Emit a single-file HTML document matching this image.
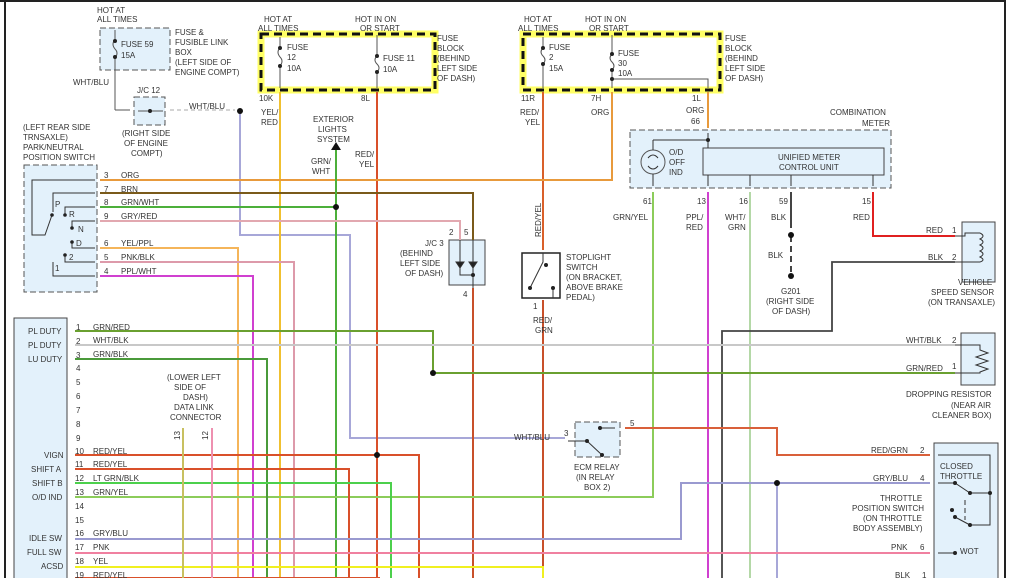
<!DOCTYPE html>
<html><head><style>
html,body{margin:0;padding:0;background:#fff;}
svg{display:block;}
text{font-family:"Liberation Sans",sans-serif;font-size:8px;fill:#333;}
</style></head><body>
<svg width="1021" height="578" viewBox="0 0 1021 578" xmlns="http://www.w3.org/2000/svg">
<rect width="1021" height="578" fill="#fff"/>
<line x1="5" y1="0" x2="5" y2="578" stroke="#222" stroke-width="2"/>
<line x1="0" y1="1" x2="1006" y2="1" stroke="#222" stroke-width="2"/>
<line x1="1005" y1="0" x2="1005" y2="578" stroke="#222" stroke-width="2"/>

<!-- boxes -->
<g stroke="#555" stroke-dasharray="6,3" fill="#e3f1fb">
<rect x="100" y="28" width="70" height="42"/>
<rect x="134" y="97" width="31" height="28"/>
<rect x="24" y="165" width="73" height="127"/>
<rect x="630" y="130" width="261" height="58"/>
<rect x="575" y="422" width="45" height="35"/>
</g>
<g stroke="#444" fill="#e3f1fb">
<rect x="703" y="148" width="181" height="27"/>
<rect x="14" y="318" width="53" height="262"/>
<rect x="449" y="240" width="36" height="45"/>
<rect x="962" y="222" width="33" height="60"/>
<rect x="961" y="333" width="34" height="52"/>
<rect x="934" y="443" width="64" height="140"/>
</g>
<rect x="522" y="253" width="38" height="45" fill="#fff" stroke="#222" stroke-width="1.5"/>

<!-- fuse blocks -->
<g fill="none">
<rect x="261" y="34" width="174" height="56" stroke="#ffff40" stroke-width="7" stroke-opacity=".8"/>
<rect x="261" y="34" width="174" height="56" stroke="#111" stroke-width="3" stroke-dasharray="8,5"/>
<rect x="523" y="34" width="197" height="56" stroke="#ffff40" stroke-width="7" stroke-opacity=".8"/>
<rect x="523" y="34" width="197" height="56" stroke="#111" stroke-width="3" stroke-dasharray="8,5"/>
</g>
<g stroke="#555" fill="none">
<line x1="115" y1="30" x2="115" y2="40"/><line x1="115" y1="58" x2="115" y2="110"/><line x1="115" y1="110" x2="130" y2="110"/>
<line x1="280" y1="37" x2="280" y2="48"/><line x1="280" y1="66" x2="280" y2="88"/>
<line x1="377" y1="35" x2="377" y2="56"/><line x1="377" y1="72" x2="377" y2="88"/>
<line x1="543" y1="37" x2="543" y2="48"/><line x1="543" y1="64" x2="543" y2="88"/>
<line x1="612" y1="35" x2="612" y2="54"/><line x1="612" y1="70" x2="612" y2="88"/>
<path d="M115,40 q-4,4 0,9 q4,4 0,9 M280,48 q-4,4 0,9 q4,4 0,9 M377,56 q-4,4 0,8 q4,4 0,8 M543,48 q-4,4 0,8 q4,4 0,8 M612,54 q-4,4 0,8 q4,4 0,8"/>
<polyline points="612,79 708,79 708,88"/>
<line x1="138" y1="111" x2="163" y2="111"/>
<line x1="170" y1="110" x2="235" y2="110" stroke-dasharray="4,3" stroke="#aaa"/>
</g>
<g fill="#222">
<circle cx="115" cy="41" r="2"/><circle cx="115" cy="57" r="2"/><circle cx="280" cy="48" r="2"/><circle cx="280" cy="66" r="2"/>
<circle cx="377" cy="56" r="2"/><circle cx="377" cy="72" r="2"/><circle cx="543" cy="48" r="2"/><circle cx="543" cy="64" r="2"/>
<circle cx="612" cy="54" r="2"/><circle cx="612" cy="70" r="2"/><circle cx="612" cy="79" r="2"/><circle cx="150" cy="111" r="2"/>
</g>

<!-- wires -->
<g fill="none" stroke-width="2">
<polyline points="240,111 240,235 350,235 350,438 565,438" stroke="#a7a7d8"/>
<line x1="280" y1="92" x2="280" y2="578" stroke="#f0c030"/>
<line x1="377" y1="92" x2="377" y2="578" stroke="#d9502a"/>
<line x1="543" y1="92" x2="543" y2="250" stroke="#d9602a"/>
<polyline points="612,92 612,180 100,180" stroke="#e89a3c"/>
<line x1="708" y1="92" x2="708" y2="128" stroke="#e89a3c"/>
<polyline points="100,193 473,193 473,240" stroke="#7a5a1a"/>
<line x1="100" y1="207" x2="336" y2="207" stroke="#4caf3a"/>
<line x1="336" y1="150" x2="336" y2="578" stroke="#4caf3a"/>
<polyline points="100,221 460,221 460,240" stroke="#e2a8b0"/>
<polyline points="100,248 238,248 238,578" stroke="#f5b55a"/>
<polyline points="100,262 294,262 294,578" stroke="#dd9aaa"/>
<polyline points="100,276 253,276 253,578" stroke="#d040d0"/>
<line x1="473" y1="288" x2="473" y2="578" stroke="#c8502a"/>
<line x1="543" y1="300" x2="543" y2="578" stroke="#c8502a"/>
<polyline points="653,192 653,497 75,497" stroke="#8ccc5a"/>
<line x1="708" y1="192" x2="708" y2="578" stroke="#d040d0"/>
<line x1="750" y1="192" x2="750" y2="578" stroke="#9ccc8a" stroke-width="1.5"/>
<polyline points="873,192 873,236 955,236" stroke="#e02020"/>
<polyline points="955,262 832,262 832,331 722,331 722,578" stroke="#444" stroke-width="1.8"/>
<polyline points="75,331 433,331 433,373 955,373" stroke="#6aa030"/>
<line x1="75" y1="345" x2="955" y2="345" stroke="#c8c8c8"/>
<polyline points="75,359 267,359 267,578" stroke="#4a9a3a"/>
<polyline points="75,455 419,455 419,578" stroke="#d9502a"/>
<polyline points="75,469 349,469 349,578" stroke="#d9502a"/>
<polyline points="75,483 391,483 391,578" stroke="#4cd04c"/>
<polyline points="75,539 681,539 681,483 930,483" stroke="#9a9ad0"/>
<line x1="777" y1="483" x2="777" y2="578" stroke="#a7a7d8"/>
<line x1="75" y1="553" x2="930" y2="553" stroke="#f080a0"/>
<polyline points="75,567 543,567 543,578" stroke="#f0f020"/>
<line x1="75" y1="578" x2="380" y2="578" stroke="#d9502a"/>
<polyline points="625,428 777,428 777,455 930,455" stroke="#d9603a"/>
<line x1="183" y1="428" x2="183" y2="578" stroke="#c8c060"/>
<line x1="212" y1="428" x2="212" y2="578" stroke="#ee90b0"/>
<line x1="791" y1="192" x2="791" y2="228" stroke="#444"/>
<line x1="791" y1="236" x2="791" y2="272" stroke="#444" stroke-dasharray="6,4"/>
</g>
<g fill="#111">
<circle cx="240" cy="111" r="3"/><circle cx="336" cy="207" r="3"/><circle cx="433" cy="373" r="3"/>
<circle cx="377" cy="455" r="3"/><circle cx="777" cy="483" r="3"/><circle cx="791" cy="235" r="3"/>
<circle cx="791" cy="276" r="3"/><polygon points="331,150 341,150 336,142"/>
</g>

<!-- component internals -->
<g stroke="#333" fill="none" stroke-width="1">
<circle cx="653" cy="162" r="12" stroke="#555"/>
<path d="M648,158 q5,-6 10,0 M648,166 q5,6 10,0"/>
<polyline points="653,140 653,150"/><polyline points="653,174 653,186"/>
<polyline points="708,133 708,148"/><polyline points="653,140 708,140"/>
<line x1="750" y1="175" x2="750" y2="186"/><line x1="791" y1="175" x2="791" y2="186"/><line x1="873" y1="175" x2="873" y2="186"/><line x1="708" y1="175" x2="708" y2="186"/>
<!-- PNP switch -->
<polyline points="95,180 32,180 32,235 45,235 52,215"/>
<polyline points="95,193 53,193 53,212"/>
<polyline points="95,207 65,207 65,215"/>
<polyline points="95,221 72,221 72,228"/>
<polyline points="95,248 72,248 72,242"/>
<polyline points="95,262 65,262 65,255"/>
<polyline points="95,276 53,276 53,262"/>
<!-- J/C3 diodes -->
<polyline points="460,240 460,275 473,275"/><line x1="473" y1="240" x2="473" y2="288"/>
<polygon points="456,262 464,262 460,268" fill="#222"/><polygon points="469,262 477,262 473,268" fill="#222"/>
<!-- stoplight switch -->
<polyline points="543,253 543,262 530,288"/><polyline points="553,298 553,288"/>
<!-- speed sensor coil -->
<polyline points="955,236 965,236 965,233 980,233"/><polyline points="955,262 965,262 980,262"/>
<path d="M980,233 q6,3 0,6 q6,3 0,6 q6,3 0,6 q6,3 0,6 q6,3 0,5"/>
<!-- resistor -->
<polyline points="955,345 980,345 980,350 988,353 976,357 988,361 976,365 988,369 980,372 980,373 955,373"/>
<!-- ECM relay -->
<line x1="587" y1="441" x2="602" y2="455"/><line x1="600" y1="428" x2="615" y2="428"/>
<line x1="568" y1="441" x2="587" y2="441"/>
<!-- throttle -->
<polyline points="938,455 990,455 990,525 970,525"/>
<polyline points="938,483 955,483 970,493 992,493"/>
<polyline points="955,517 970,525"/>
<line x1="965" y1="500" x2="965" y2="520" stroke-dasharray="5,3"/>
<line x1="938" y1="553" x2="955" y2="553"/>
</g>
<g fill="#222">
<circle cx="52" cy="215" r="1.8"/><circle cx="65" cy="215" r="1.8"/><circle cx="72" cy="228" r="1.8"/><circle cx="72" cy="242" r="1.8"/><circle cx="65" cy="255" r="1.8"/>
<circle cx="708" cy="140" r="2"/><circle cx="473" cy="275" r="2"/>
<circle cx="546" cy="265" r="2"/><circle cx="530" cy="288" r="2"/><circle cx="553" cy="288" r="2"/>
<circle cx="587" cy="441" r="2"/><circle cx="602" cy="455" r="2"/><circle cx="600" cy="428" r="2"/>
<circle cx="955" cy="483" r="2"/><circle cx="970" cy="493" r="2"/><circle cx="990" cy="493" r="2"/><circle cx="952" cy="510" r="2"/><circle cx="955" cy="517" r="2"/><circle cx="970" cy="525" r="2"/><circle cx="955" cy="553" r="2"/>
</g>

<!-- texts -->
<text x="97" y="13">HOT AT</text><text x="97" y="22">ALL TIMES</text>
<text x="121" y="47">FUSE 59</text><text x="121" y="58">15A</text>
<text x="175" y="35">FUSE &amp;</text><text x="175" y="45">FUSIBLE LINK</text><text x="175" y="55">BOX</text><text x="175" y="65">(LEFT SIDE OF</text><text x="175" y="75">ENGINE COMPT)</text>
<text x="73" y="85">WHT/BLU</text><text x="137" y="93">J/C 12</text>
<text x="122" y="136">(RIGHT SIDE</text><text x="124" y="146">OF ENGINE</text><text x="131" y="156">COMPT)</text>
<text x="189" y="109">WHT/BLU</text>
<text x="23" y="130">(LEFT REAR SIDE</text><text x="23" y="140">TRNSAXLE)</text><text x="23" y="150">PARK/NEUTRAL</text><text x="23" y="160">POSITION SWITCH</text>
<text x="264" y="22">HOT AT</text><text x="258" y="31">ALL TIMES</text>
<text x="355" y="22">HOT IN ON</text><text x="360" y="31">OR START</text>
<text x="287" y="50">FUSE</text><text x="287" y="60">12</text><text x="287" y="71">10A</text>
<text x="383" y="61">FUSE 11</text><text x="383" y="72">10A</text>
<text x="437" y="41">FUSE</text><text x="437" y="51">BLOCK</text><text x="437" y="61">(BEHIND</text><text x="437" y="71">LEFT SIDE</text><text x="437" y="81">OF DASH)</text>
<text x="259" y="101">10K</text><text x="361" y="101">8L</text>
<text x="261" y="115">YEL/</text><text x="261" y="125">RED</text>
<text x="313" y="122">EXTERIOR</text><text x="318" y="132">LIGHTS</text><text x="317" y="142">SYSTEM</text>
<text x="311" y="164">GRN/</text><text x="312" y="174">WHT</text><text x="355" y="157">RED/</text><text x="359" y="167">YEL</text>
<text x="104" y="178">3</text><text x="121" y="178">ORG</text>
<text x="104" y="192">7</text><text x="121" y="192">BRN</text>
<text x="104" y="205">8</text><text x="121" y="205">GRN/WHT</text>
<text x="104" y="219">9</text><text x="121" y="219">GRY/RED</text>
<text x="104" y="246">6</text><text x="121" y="246">YEL/PPL</text>
<text x="104" y="260">5</text><text x="121" y="260">PNK/BLK</text>
<text x="104" y="274">4</text><text x="121" y="274">PPL/WHT</text>
<text x="55" y="207">P</text><text x="69" y="217">R</text><text x="78" y="232">N</text><text x="76" y="246">D</text><text x="69" y="260">2</text><text x="55" y="271">1</text>
<text x="449" y="235">2</text><text x="464" y="235">5</text><text x="463" y="297">4</text>
<text x="425" y="246">J/C 3</text><text x="400" y="256">(BEHIND</text><text x="400" y="266">LEFT SIDE</text><text x="405" y="276">OF DASH)</text>
<text x="524" y="22">HOT AT</text><text x="518" y="31">ALL TIMES</text>
<text x="585" y="22">HOT IN ON</text><text x="589" y="31">OR START</text>
<text x="549" y="50">FUSE</text><text x="549" y="60">2</text><text x="549" y="71">15A</text>
<text x="618" y="56">FUSE</text><text x="618" y="66">30</text><text x="618" y="76">10A</text>
<text x="725" y="41">FUSE</text><text x="725" y="51">BLOCK</text><text x="725" y="61">(BEHIND</text><text x="725" y="71">LEFT SIDE</text><text x="725" y="81">OF DASH)</text>
<text x="521" y="101">11R</text><text x="591" y="101">7H</text><text x="692" y="101">1L</text>
<text x="520" y="115">RED/</text><text x="525" y="125">YEL</text><text x="591" y="115">ORG</text>
<text x="686" y="113">ORG</text><text x="691" y="124">66</text>
<text x="830" y="115">COMBINATION</text><text x="862" y="126">METER</text>
<text x="669" y="155">O/D</text><text x="669" y="165">OFF</text><text x="669" y="175">IND</text>
<text x="778" y="160">UNIFIED METER</text><text x="779" y="170">CONTROL UNIT</text>
<text x="643" y="204">61</text><text x="697" y="204">13</text><text x="739" y="204">16</text><text x="779" y="204">59</text><text x="862" y="204">15</text>
<text x="613" y="220">GRN/YEL</text><text x="686" y="220">PPL/</text><text x="686" y="230">RED</text>
<text x="725" y="220">WHT/</text><text x="728" y="230">GRN</text><text x="771" y="220">BLK</text><text x="853" y="220">RED</text>
<text x="768" y="258">BLK</text><text x="781" y="294">G201</text><text x="766" y="304">(RIGHT SIDE</text><text x="772" y="314">OF DASH)</text>
<text x="926" y="233">RED</text><text x="952" y="233">1</text><text x="928" y="260">BLK</text><text x="952" y="260">2</text>
<text x="958" y="285">VEHICLE</text><text x="931" y="295">SPEED SENSOR</text><text x="928" y="305">(ON TRANSAXLE)</text>
<text x="566" y="260">STOPLIGHT</text><text x="566" y="270">SWITCH</text><text x="566" y="280">(ON BRACKET,</text><text x="566" y="290">ABOVE BRAKE</text><text x="566" y="300">PEDAL)</text>
<text x="533" y="309">1</text><text x="533" y="323">RED/</text><text x="535" y="333">GRN</text>
<text transform="translate(541,237) rotate(-90)">RED/YEL</text>
<text x="906" y="343">WHT/BLK</text><text x="952" y="343">2</text>
<text x="906" y="371">GRN/RED</text><text x="952" y="369">1</text>
<text x="906" y="397">DROPPING RESISTOR</text><text x="951" y="408">(NEAR AIR</text><text x="932" y="418">CLEANER BOX)</text>
<text x="514" y="440">WHT/BLU</text><text x="564" y="436">3</text><text x="630" y="426">5</text>
<text x="574" y="470">ECM RELAY</text><text x="576" y="480">(IN RELAY</text><text x="584" y="490">BOX 2)</text>
<text x="871" y="453">RED/GRN</text><text x="920" y="453">2</text>
<text x="940" y="469">CLOSED</text><text x="940" y="479">THROTTLE</text>
<text x="873" y="481">GRY/BLU</text><text x="920" y="481">4</text>
<text x="880" y="501">THROTTLE</text><text x="852" y="511">POSITION SWITCH</text><text x="863" y="521">(ON THROTTLE</text><text x="853" y="531">BODY ASSEMBLY)</text>
<text x="891" y="550">PNK</text><text x="920" y="550">6</text><text x="960" y="554">WOT</text>
<text x="895" y="578">BLK</text><text x="922" y="578">1</text>
<text x="28" y="334">PL DUTY</text><text x="28" y="348">PL DUTY</text><text x="28" y="362">LU DUTY</text>
<text x="44" y="458">VIGN</text><text x="31" y="472">SHIFT A</text><text x="32" y="486">SHIFT B</text><text x="32" y="500">O/D IND</text>
<text x="29" y="541">IDLE SW</text><text x="27" y="555">FULL SW</text><text x="41" y="569">ACSD</text>
<g>
<text x="76" y="330">1</text><text x="76" y="344">2</text><text x="76" y="358">3</text><text x="76" y="371">4</text><text x="76" y="385">5</text><text x="76" y="399">6</text><text x="76" y="413">7</text><text x="76" y="427">8</text><text x="76" y="441">9</text>
<text x="75" y="454">10</text><text x="75" y="467">11</text><text x="75" y="481">12</text><text x="75" y="495">13</text><text x="75" y="509">14</text><text x="75" y="523">15</text><text x="75" y="536">16</text><text x="75" y="550">17</text><text x="75" y="564">18</text><text x="75" y="578">19</text>
</g>
<text x="93" y="330">GRN/RED</text><text x="93" y="343">WHT/BLK</text><text x="93" y="357">GRN/BLK</text>
<text x="93" y="454">RED/YEL</text><text x="93" y="467">RED/YEL</text><text x="93" y="481">LT GRN/BLK</text><text x="93" y="495">GRN/YEL</text>
<text x="93" y="536">GRY/BLU</text><text x="93" y="550">PNK</text><text x="93" y="564">YEL</text><text x="93" y="578">RED/YEL</text>
<text x="167" y="380">(LOWER LEFT</text><text x="174" y="390">SIDE OF</text><text x="183" y="400">DASH)</text><text x="174" y="410">DATA LINK</text><text x="170" y="420">CONNECTOR</text>
<text transform="translate(180,440) rotate(-90)">13</text><text transform="translate(208,440) rotate(-90)">12</text>
</svg>
</body></html>
